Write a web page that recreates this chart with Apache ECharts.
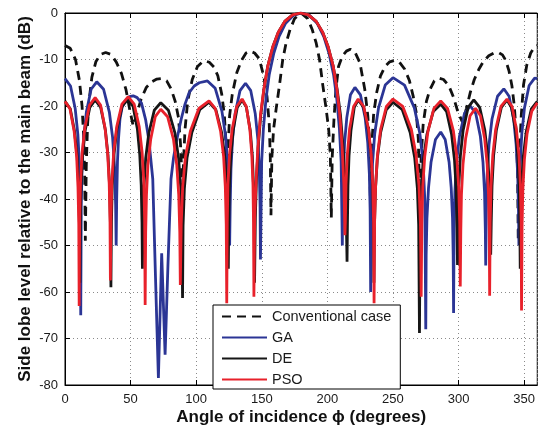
<!DOCTYPE html>
<html>
<head>
<meta charset="utf-8">
<script src="https://cdn.jsdelivr.net/npm/echarts@6/dist/echarts.min.js"></script>
<style>html,body{margin:0;padding:0;background:#fff}#c{width:538px;height:431px}</style>
</head>
<body>
<div id="c"></div>
<script>
const seriesNames = ['Conventional case', 'GA', 'DE', 'PSO'];

const conventional = [[0,-7],[4,-7.6],[8,-10],[11,-14.5],[13,-20],[14.3,-27],[15,-35],[15.5,-49],[16.2,-33],[17.2,-24],[18.5,-18.5],[20.5,-13.8],[23.5,-10.5],[27,-8.9],[31,-8.5],[35,-8.9],[39,-10.5],[43,-13],[46.5,-16.5],[49.5,-21],[52,-24.3],[54.5,-22],[58,-18.5],[62,-16],[66,-14.8],[70,-14.2],[73.5,-14.1],[77.5,-14.6],[81,-16.4],[84,-19],[86.5,-22.5],[88,-28],[89,-34],[89.5,-42],[90.3,-32],[91.5,-25],[93.5,-19],[97,-14.3],[101,-11.5],[104.5,-10.6],[107,-10.3],[110,-10.6],[113.5,-11.6],[116.5,-13.5],[119.5,-17.5],[121.5,-22],[122.7,-28],[123.5,-45],[124.3,-29],[125.5,-22],[127.5,-17.5],[131,-12.8],[134.5,-10.2],[138,-8.6],[141,-8.2],[144.5,-8.6],[148,-9.8],[151.5,-13.6],[154,-18],[155.7,-24],[156.5,-31],[157,-43.5],[157.7,-31],[159,-25],[161,-20.5],[163.5,-15.5],[166,-10],[168.5,-6.5],[171.5,-3.6],[175,-1.2],[180,0],[185,-1.2],[188.5,-3.6],[191.5,-6.5],[194,-10],[196.5,-15.5],[199,-20.5],[201,-25],[202.3,-31],[203,-44],[203.7,-31],[205,-23],[206.5,-16.5],[208.5,-11.5],[211.5,-9.2],[214.5,-8.2],[217.5,-7.8],[221,-8.4],[224.8,-10.7],[228.5,-16.4],[230.8,-22],[232.2,-28],[233,-45],[233.8,-29],[235.2,-22],[237.5,-17.2],[240.5,-13.5],[244,-11.5],[247.5,-10.5],[251,-10.2],[255,-10.6],[259,-12.1],[262.5,-14.5],[265.5,-18],[267.8,-21.5],[269.3,-27],[270.5,-42],[271.5,-31],[273,-24],[275.5,-19],[278,-16.6],[281.5,-14.6],[285,-14],[288.5,-14.3],[292.5,-15.6],[296,-18],[299.5,-21.3],[303,-23.5],[306,-20.5],[309,-17],[312,-14.3],[315.5,-12.1],[319,-10.4],[323,-9.2],[327,-8.6],[330.5,-8.5],[333.5,-9],[336,-10.2],[338.5,-12.5],[340.7,-15.7],[342.5,-20],[344,-26],[345,-34],[345.5,-49],[346.5,-30],[347.8,-22],[349.5,-15.5],[352,-11.2],[355,-8.6],[358,-7.3],[360,-7]];

const ga = [[0,-14.1],[4.2,-15.7],[7.8,-20.6],[9.8,-26.1],[11,-32.6],[11.6,-40.6],[12,-65],
[12.4,-41.3],[13,-33.3],[14.2,-26.8],[16.3,-21.3],[19.9,-16.4],[24.2,-14.8],[29.4,-16.4],[33.8,-21.3],[36.3,-26.8],[37.8,-33.3],[38.6,-41.3],[39,-50],
[39.4,-40],[40,-32],[40.8,-27],[41.9,-22.8],[43.5,-20.3],[45.7,-19],[49,-18],[52,-17.8],[55,-18.2],[58.3,-19.4],[61.5,-23],[64,-27.5],[66.9,-35.7],[69,-57],[71.2,-78.5],
[73.7,-51.7],[76.3,-73.5],[78.5,-54],[80.8,-35.7],[82.8,-31],[84.8,-27.8],[88.6,-22.8],[91.5,-19.6],[94.7,-17.1],[98.5,-15.7],[102.3,-15],[108.6,-14.6],[114.5,-16.2],[119.6,-21.1],[122.5,-26.6],[124.1,-33.1],[124.9,-41.1],[125.5,-50],
[125.9,-41.6],[126.5,-33.6],[127.7,-27.1],[129.7,-21.6],[133.4,-16.7],[137.6,-15.1],[141.6,-16.7],[145,-21.6],[147,-27.1],[148.1,-33.6],[148.7,-41.6],[149,-53],
[149.9,-32],[151.2,-25],[153.2,-18.5],[155.7,-13.2],[159.2,-8.6],[163.2,-5],[168.2,-2.2],[174.2,-0.5],[180.2,0],[186.2,-0.5],[192.2,-2.2],[197.2,-5],[201.2,-8.6],[204.7,-13.2],[207.2,-18.5],[209.2,-25],[210.5,-32],[211.4,-50],
[211.7,-42.5],[212.2,-34.5],[213.1,-28],[214.8,-22.5],[217.6,-17.6],[221,-16],[225.2,-17.6],[228.8,-22.5],[230.8,-28],[232,-34.5],[232.6,-42.5],[233,-60],
[233.5,-40.4],[234.4,-32.4],[236.1,-25.9],[239,-20.4],[244.1,-15.5],[250,-13.9],[258.8,-15.5],[266.3,-20.4],[270.5,-25.9],[273,-32.4],[274.3,-40.4],[275,-68],
[275.3,-52.1],[275.9,-44.1],[277.1,-37.6],[279,-32.1],[282.4,-27.2],[286.4,-25.6],[289.8,-27.2],[292.8,-32.1],[294.4,-37.6],[295.4,-44.1],[295.9,-52.1],[296.2,-64.5],
[296.6,-46.5],[297.2,-38.5],[298.5,-32],[300.7,-26.5],[304.5,-21.6],[309,-20],[313.1,-21.6],[316.6,-26.5],[318.6,-32],[319.8,-38.5],[320.4,-46.5],[320.7,-54.3],
[321.1,-42.8],[321.8,-34.8],[323.2,-28.3],[325.5,-22.8],[329.7,-17.9],[334.5,-16.3],[338.5,-17.9],[342,-22.8],[343.9,-28.3],[345.1,-34.8],[345.7,-42.8],[346,-50],
[346.4,-40.5],[347,-32.5],[348.2,-26],[350.2,-20.5],[353.8,-15.6],[358,-14],[360,-14.1]];

const de = [[0,-19],[4,-20.6],[7.3,-25.5],[9.3,-31],[10.4,-37.5],[11,-45.5],[11.3,-58],
[11.65,-45.2],[12.2,-37.2],[13.4,-30.7],[15.4,-25.2],[18.9,-20.3],[23,-18.7],[27.2,-20.3],[30.8,-25.2],[32.8,-30.7],[34,-37.2],[34.6,-45.2],[35,-59],
[35.4,-45],[36,-37],[37.3,-30.5],[39.5,-25],[43.5,-20.1],[48,-18.5],[51.9,-20.1],[55.2,-25],[57,-30.5],[58.1,-37],[58.7,-45],[59,-55],
[59.4,-45.8],[60.1,-37.8],[61.5,-31.3],[63.9,-25.8],[68.1,-20.9],[73,-19.3],[78.8,-20.9],[83.8,-25.8],[86.6,-31.3],[88.3,-37.8],[89.1,-45.8],[89.6,-61.3],
[90,-45.7],[91,-37.7],[93,-31.2],[96.7,-25.7],[102.7,-20.8],[109.8,-19.2],[115,-20.8],[119.4,-25.7],[121.9,-31.2],[123.3,-37.7],[124.1,-45.7],[124.5,-55],
[124.8,-45.2],[125.3,-37.2],[126.4,-30.7],[128.2,-25.2],[131.3,-20.3],[135,-18.7],[138.3,-20.3],[141.2,-25.2],[142.8,-30.7],[143.7,-37.2],[144.2,-45.2],[144.5,-58],
[145.1,-44],[145.9,-36],[147.2,-29],[149.2,-22],[151.6,-16.5],[154.5,-11.5],[158.5,-7.2],[162.5,-4.2],[167.5,-1.8],[173.5,-0.4],[179.5,0],[185.5,-0.4],[191.5,-1.8],[196.5,-4.2],[200.5,-7.2],[204.5,-11.5],[207.5,-16.5],[210,-22],[212,-29],[213.5,-36],[214.4,-44],[215,-53.5],
[215.3,-45.2],[215.7,-37.2],[216.5,-30.7],[218,-25.2],[220.5,-20.3],[223.5,-18.7],[227.7,-20.3],[231.3,-25.2],[233.3,-30.7],[234.5,-37.2],[235.1,-45.2],[235.5,-58],
[235.9,-45.7],[236.7,-37.7],[238.1,-31.2],[240.6,-25.7],[244.9,-20.8],[250,-19.2],[257.1,-20.8],[263.1,-25.7],[266.6,-31.2],[268.6,-37.7],[269.6,-45.7],[270.2,-68.8],
[270.7,-46.1],[271.5,-38.1],[273.1,-31.6],[275.9,-26.1],[280.7,-21.2],[286.4,-19.6],[290.9,-21.2],[294.7,-26.1],[296.9,-31.6],[298.2,-38.1],[298.8,-46.1],[299.2,-54.2],
[299.6,-45.2],[300.2,-37.2],[301.4,-30.7],[303.5,-25.2],[307.3,-20.3],[311.6,-18.7],[316.1,-20.3],[320,-25.2],[322.2,-30.7],[323.5,-37.2],[324.1,-45.2],[324.5,-52],
[324.9,-45.2],[325.5,-37.2],[326.7,-30.7],[328.8,-25.2],[332.6,-20.3],[336.9,-18.7],[340.4,-20.3],[343.5,-25.2],[345.2,-30.7],[346.2,-37.2],[346.7,-45.2],[347,-55],
[347.4,-45.5],[348,-37.5],[349.3,-31],[351.6,-25.5],[355.5,-20.6],[360,-19]];

const pso = [[0,-19],[3.8,-20.6],[7,-25.5],[8.9,-31],[9.9,-37.5],[10.5,-45.5],[10.8,-63],
[11.2,-44.7],[11.8,-36.7],[13,-30.2],[15.1,-24.7],[18.7,-19.8],[23,-18.2],[27.1,-19.8],[30.5,-24.7],[32.5,-30.2],[33.7,-36.7],[34.3,-44.7],[34.6,-57.5],
[35,-44.5],[35.7,-36.5],[37.1,-30],[39.4,-24.5],[43.4,-19.6],[48.2,-18],[52.7,-19.6],[56.6,-24.5],[58.8,-30],[60.1,-36.5],[60.7,-44.5],[61.1,-62.8],
[61.5,-47.2],[62.1,-39.2],[63.2,-32.7],[65.3,-27.2],[68.8,-22.3],[73,-20.7],[78.2,-22.3],[82.7,-27.2],[85.2,-32.7],[86.7,-39.2],[87.5,-47.2],[87.9,-58.5],
[88.6,-45.4],[89.7,-37.4],[91.8,-30.9],[95.6,-25.4],[102.1,-20.5],[109.8,-18.9],[114.5,-20.5],[118.6,-25.4],[120.9,-30.9],[122.2,-37.4],[122.9,-45.4],[123.3,-62.4],
[123.7,-45],[124.2,-37],[125.4,-30.5],[127.4,-25],[130.9,-20.1],[135,-18.5],[138.2,-20.1],[140.9,-25],[142.4,-30.5],[143.3,-37],[143.7,-45],[144,-61],
[144.6,-44],[145.7,-36],[147,-29],[149,-22],[151.5,-16.5],[154.5,-11.5],[158.5,-7.2],[162.5,-4.2],[167.5,-1.8],[173.5,-0.4],[179.5,0],[185.5,-0.4],[191.5,-1.8],[196.5,-4.2],[200.5,-7.2],[204.5,-11.5],[207.3,-16.5],[209.5,-22],[211.3,-29],[212.6,-37],[213.4,-47.8],
[213.7,-45],[214.2,-37],[215.2,-30.5],[216.9,-25],[220,-20.1],[223.5,-18.5],[227.7,-20.1],[231.4,-25],[233.4,-30.5],[234.6,-37],[235.2,-45],[235.6,-62.4],
[236,-45],[236.8,-37],[238.2,-30.5],[240.6,-25],[245,-20.1],[250,-18.5],[257.5,-20.1],[264,-25],[267.6,-30.5],[269.8,-37],[270.9,-45],[271.5,-61],
[272,-45.4],[272.7,-37.4],[274.2,-30.9],[276.7,-25.4],[281.2,-20.5],[286.4,-18.9],[291.6,-20.5],[296.1,-25.4],[298.6,-30.9],[300.1,-37.4],[300.9,-45.4],[301.3,-58.8],
[301.7,-47],[302.2,-39],[303.4,-32.5],[305.4,-27],[308.8,-22.1],[312.9,-20.5],[316.7,-22.1],[319.9,-27],[321.8,-32.5],[322.8,-39],[323.4,-47],[323.7,-60.8],
[324.1,-45],[324.8,-37],[326.1,-30.5],[328.3,-25],[332.3,-20.1],[336.9,-18.5],[340.8,-20.1],[344.1,-25],[346,-30.5],[347.1,-37],[347.7,-45],[348,-64],
[348.4,-46],[349,-38],[350.2,-31.5],[352.2,-26],[355.8,-21.1],[360,-19.3]];

const xRange = [0, 360, 50];
const yRange = [-80, 0, 10];

const font = '"Liberation Sans", Arial, Helvetica, sans-serif';
const chart = echarts.init(document.getElementById('c'), null, {renderer: 'canvas'});

const colors = ['#111111', '#2b3595', '#161616', '#e8212b'];
const datas = [conventional, ga, de, pso];

chart.setOption({
  animation: false,
  backgroundColor: '#fff',
  grid: {left: 65, top: 13, right: -2, bottom: 44, show: true, borderColor: '#000', borderWidth: 1, backgroundColor: 'transparent'},
  xAxis: [{
    type: 'value', min: xRange[0], max: xRange[1], interval: xRange[2],
    name: 'Angle of incidence \u03d5 (degrees)', nameLocation: 'middle', nameGap: 24, nameMoveOverlap: false,
    nameTextStyle: {fontFamily: font, fontSize: 17, fontWeight: 'bold', color: '#111'},
    axisLine: {show: true, onZero: false, lineStyle: {color: '#000', width: 1}},
    axisTick: {show: true, inside: true, length: 5, lineStyle: {color: '#000'}},
    axisLabel: {fontFamily: font, fontSize: 13, color: '#1a1a1a', margin: 8, showMaxLabel: false,
      formatter: v => (v === 360 ? '' : String(v))},
    splitLine: {show: true, lineStyle: {color: '#8a8a8a', type: [1, 3], width: 1}}
  }, {
    type: 'value', position: 'top', min: xRange[0], max: xRange[1], interval: xRange[2],
    axisLine: {show: true, lineStyle: {color: '#000'}},
    axisTick: {show: true, inside: true, length: 5, lineStyle: {color: '#000'}},
    axisLabel: {show: false}, splitLine: {show: false}
  }],
  yAxis: {
    type: 'value', min: yRange[0], max: yRange[1], interval: yRange[2],
    name: 'Side lobe level relative to the main beam (dB)', nameLocation: 'middle', nameGap: 31, nameMoveOverlap: false,
    nameTextStyle: {fontFamily: font, fontSize: 17, fontWeight: 'bold', color: '#111'},
    axisLine: {show: true, onZero: false, lineStyle: {color: '#000', width: 1}},
    axisTick: {show: true, inside: true, length: 5, lineStyle: {color: '#000'}},
    axisLabel: {fontFamily: font, fontSize: 13, color: '#1a1a1a', margin: 7},
    splitLine: {show: true, lineStyle: {color: '#8a8a8a', type: [1, 3], width: 1}}
  },
  legend: {
    orient: 'vertical', left: 213, top: 305,
    itemWidth: 45, itemHeight: 14, itemGap: 6,
    padding: [4, 9, 2, 8],
    borderColor: '#000', borderWidth: 1, backgroundColor: '#fff', borderRadius: 0,
    itemStyle: {opacity: 0},
    textStyle: {fontFamily: font, fontSize: 14.5, color: '#1a1a1a'},
    data: seriesNames
  },
  series: datas.map((d, i) => ({
    name: seriesNames[i], type: 'line', data: d,
    showSymbol: false, symbol: 'none', smooth: false,
    lineStyle: {width: 2.8, color: colors[i], type: i === 0 ? [9, 6] : 'solid'},
    itemStyle: {color: colors[i]},
    z: 2 + i
  }))
});
</script>
</body>
</html>
